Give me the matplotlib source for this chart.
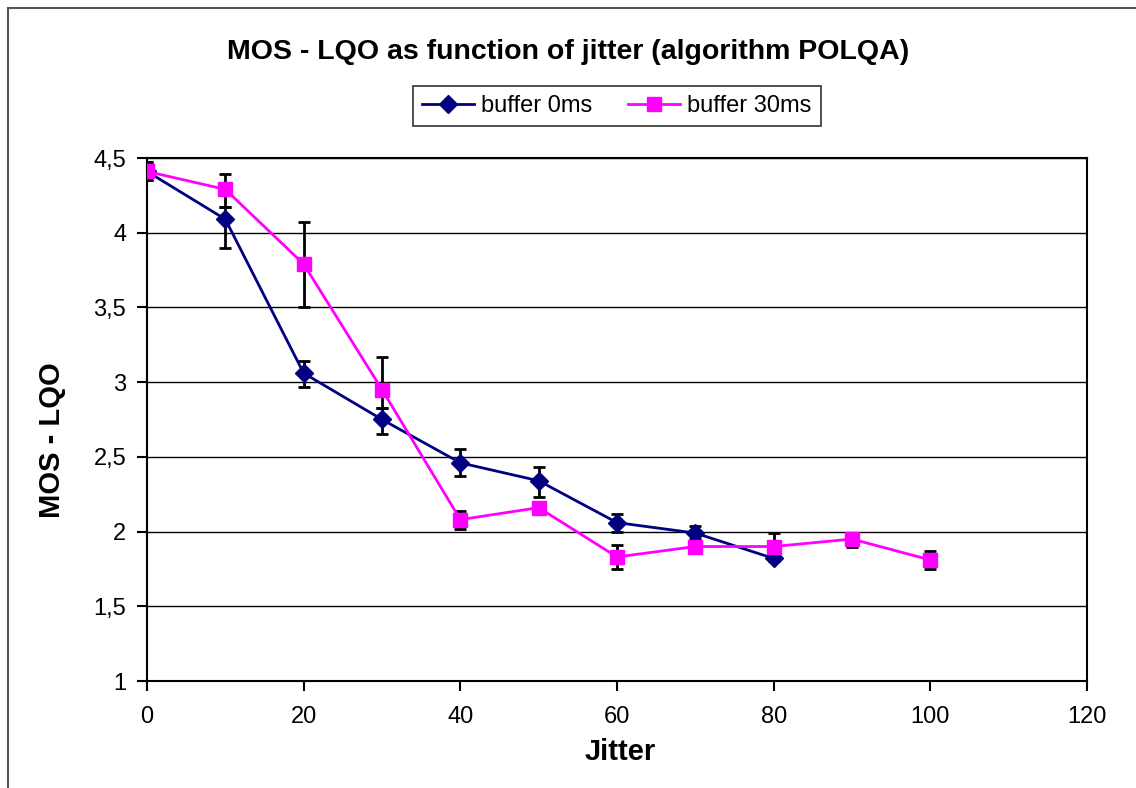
import matplotlib
matplotlib.use("Agg")
import matplotlib.pyplot as plt
from matplotlib.patches import Rectangle
import numpy as np

plt.rcParams['font.family'] = ['Liberation Sans', 'DejaVu Sans']

jitter0 = [0, 10, 20, 30, 40, 50, 60, 70, 80]
mos0 = [4.41, 4.09, 3.06, 2.75, 2.46, 2.34, 2.06, 1.99, 1.82]
err0_low = [0.06, 0.19, 0.09, 0.10, 0.09, 0.11, 0.06, 0.04, 0.02]
err0_high = [0.06, 0.08, 0.08, 0.08, 0.09, 0.09, 0.06, 0.05, 0.17]

jitter30 = [0, 10, 20, 30, 40, 50, 60, 70, 80, 90, 100]
mos30 = [4.41, 4.29, 3.79, 2.95, 2.08, 2.16, 1.83, 1.90, 1.90, 1.95, 1.81]
err30_low = [0.06, 0.12, 0.29, 0.12, 0.06, 0.04, 0.08, 0.02, 0.02, 0.05, 0.06]
err30_high = [0.06, 0.10, 0.28, 0.22, 0.06, 0.04, 0.08, 0.02, 0.02, 0.02, 0.06]

yticklabels = ['1', '1,5', '2', '2,5', '3', '3,5', '4', '4,5']

fig = plt.figure(figsize=(11.36, 7.88), dpi=100)
ax = fig.add_axes([147/1136, 1-681/788, (1087-147)/1136, (681-158)/788])

# outer chart border
fig.patches.append(Rectangle((8/1136, -0.05), 1.2, 1-8/788+0.05, transform=fig.transFigure,
                             fill=False, edgecolor='#555555', linewidth=1.5))

ax.errorbar(jitter0, mos0, yerr=[err0_low, err0_high], fmt='none', ecolor='black',
            elinewidth=2, capsize=4, capthick=2, zorder=3)
ax.errorbar(jitter30, mos30, yerr=[err30_low, err30_high], fmt='none', ecolor='black',
            elinewidth=2, capsize=4, capthick=2, zorder=3)
ax.plot(jitter0, mos0, color='#000080', marker='D', markersize=9, linewidth=2,
        label='buffer 0ms', zorder=4)
ax.plot(jitter30, mos30, color='#FF00FF', marker='s', markersize=10, linewidth=2,
        label='buffer 30ms', zorder=5)

ax.set_xlim(0, 120)
ax.set_ylim(1, 4.5)
ax.set_xticks(range(0, 121, 20))
ax.set_yticks(np.arange(1, 4.51, 0.5))
ax.set_yticklabels(yticklabels)
ax.yaxis.grid(True, color='black', linewidth=1)
ax.set_axisbelow(True)
for s in ax.spines.values():
    s.set_linewidth(1.5)
    s.set_color('black')
ax.tick_params(axis='both', direction='out', length=7, width=1.5, labelsize=17)
ax.tick_params(axis='x', pad=11)
ax.tick_params(axis='y', pad=8)

fig.text(620/1136, 1-752/788, 'Jitter', ha='center', va='center',
         fontsize=21, fontweight='bold')
fig.text(52/1136, 1-440/788, 'MOS - LQO', ha='center', va='center', rotation=90,
         fontsize=21, fontweight='bold')
fig.text(0.5, 1-52/788, 'MOS - LQO as function of jitter (algorithm POLQA)',
         ha='center', va='center', fontsize=20.5, fontweight='bold')

leg = fig.legend(loc='center', bbox_to_anchor=(617/1136, 1-106/788), ncol=2,
                 fontsize=17, frameon=True, fancybox=False, edgecolor='black',
                 handlelength=2.2, columnspacing=1.5, handletextpad=0.3,
                 borderpad=0.4)
leg.get_frame().set_linewidth(1.2)

fig.savefig('out.png', dpi=100)
